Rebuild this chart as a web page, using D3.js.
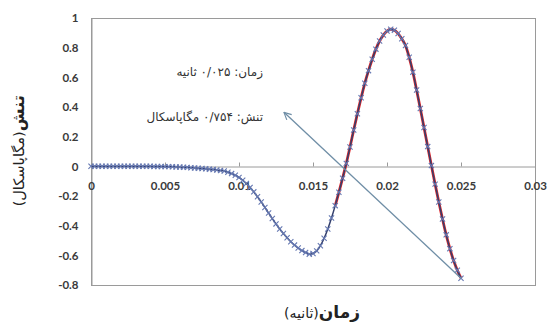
<!DOCTYPE html>
<html>
<head>
<meta charset="utf-8">
<script src="https://cdn.jsdelivr.net/npm/d3@7/dist/d3.min.js"></script>
<style>
  html, body { margin: 0; padding: 0; background: #fff; }
  svg { display: block; }
</style>
</head>
<body>
<svg id="chart" width="548" height="324"></svg>
<script>
// Stress response (MPa) sampled every 0.00025 s from 0 to 0.025 s
const stress = [
  0, 0, 0, 0, 0, 0, 0, 0, 0, 0, 0, 0, 0, 0, 0, 0, 0,
  -0.0005, -0.001, -0.001, -0.002, -0.002, -0.003, -0.004, -0.005, -0.006, -0.007,
  -0.009, -0.011, -0.013, -0.015, -0.017, -0.019, -0.022, -0.025, -0.028, -0.032,
  -0.040, -0.049, -0.060, -0.075, -0.094, -0.116, -0.142, -0.172, -0.205, -0.240,
  -0.277, -0.315, -0.352, -0.388, -0.422, -0.453, -0.482, -0.508, -0.531, -0.551,
  -0.568, -0.581, -0.592, -0.588, -0.570, -0.535, -0.485, -0.422, -0.348, -0.265,
  -0.175, -0.080, 0.020, 0.130, 0.245, 0.355, 0.462, 0.560, 0.645, 0.722,
  0.790, 0.845, 0.885, 0.912, 0.924, 0.918, 0.895, 0.860, 0.815, 0.735,
  0.635, 0.515, 0.390, 0.262, 0.133, 0.005, -0.120, -0.240, -0.355, -0.462,
  -0.555, -0.635, -0.700, -0.754
];
const timeStep = 0.00025;
const time = stress.map((_, i) => i * timeStep);

// Portion of the response traced by the red curve
const fitStart = 0.0165;

// Annotated end point of the record
const endTime = 0.025;
const endStress = -0.754;
const arrowTip = [0.01304, 0.364];

const xTicks = [0, 0.005, 0.01, 0.015, 0.02, 0.025, 0.03];
const xTickLabels = ["0", "0.005", "0.01", "0.015", "0.02", "0.025", "0.03"];
const yTicks = [-0.8, -0.6, -0.4, -0.2, 0, 0.2, 0.4, 0.6, 0.8, 1];
const yTickLabels = ["-0.8", "-0.6", "-0.4", "-0.2", "0", "0.2", "0.4", "0.6", "0.8", "1"];

const timeLabel = "زمان: ۰/۰۲۵ ثانیه";
const stressLabel = "تنش: ۰/۷۵۴ مگاپاسکال";

const svg = d3.select("#chart");
const plotLeft = 91, plotRight = 535, plotTop = 18, plotBottom = 285;

const x = d3.scaleLinear().domain([0, 0.03]).range([plotLeft, plotRight]);
const y = d3.scaleLinear().domain([-0.8, 1]).range([plotBottom, plotTop]);

const labelFont = "Lato, 'Liberation Sans', sans-serif";
const faFont = "'DejaVu Sans', sans-serif";

// Plot area frame
svg.append("rect")
  .attr("x", plotLeft + 0.5).attr("y", plotTop + 0.5)
  .attr("width", plotRight - plotLeft).attr("height", plotBottom - plotTop)
  .attr("fill", "none").attr("stroke", "#9a9a9a").attr("stroke-width", 1);

// Y axis
const yAxis = d3.axisLeft(y)
  .tickValues(yTicks)
  .tickFormat((d, i) => yTickLabels[i])
  .tickSize(0)
  .tickPadding(13);
const gy = svg.append("g").attr("transform", `translate(${plotLeft + 0.5},0)`).call(yAxis);
gy.select(".domain").attr("stroke", "#9a9a9a");
gy.selectAll("text").attr("font-family", labelFont).attr("font-size", 11.5)
  .attr("font-weight", "bold").attr("fill", "#3a3a3a");

// X axis along zero stress
const xAxis = d3.axisBottom(x)
  .tickValues(xTicks)
  .tickFormat((d, i) => xTickLabels[i])
  .tickSizeInner(-4)
  .tickSizeOuter(0)
  .tickPadding(15);
const gx = svg.append("g").attr("transform", `translate(0,${Math.round(y(0)) + 0.5})`).call(xAxis);
gx.select(".domain").attr("stroke", "#9a9a9a");
gx.selectAll(".tick line").attr("stroke", "#9a9a9a");
gx.selectAll("text").attr("font-family", labelFont).attr("font-size", 11.5)
  .attr("font-weight", "bold").attr("fill", "#3a3a3a");

const pts = time.map((t, i) => [t, stress[i]]);
const line = d3.line().x(d => x(d[0])).y(d => y(d[1])).curve(d3.curveMonotoneX);

// Red curve
svg.append("path")
  .datum(pts.filter(d => d[0] >= fitStart - 1e-9))
  .attr("d", line)
  .attr("fill", "none").attr("stroke", "#e3262a").attr("stroke-width", 2.8);

// Main response line
svg.append("path")
  .datum(pts)
  .attr("d", line)
  .attr("fill", "none").attr("stroke", "#34406e").attr("stroke-width", 1.5);

// Cross markers
svg.append("g").selectAll("path")
  .data(pts)
  .join("path")
  .attr("transform", d => `translate(${x(d[0])},${y(d[1])})`)
  .attr("d", "M-2.6,-2.6L2.6,2.6M-2.6,2.6L2.6,-2.6")
  .attr("stroke", "#6578b2").attr("stroke-width", 1.1).attr("fill", "none");

// Arrow from the end point to the annotation
svg.append("defs").append("marker")
  .attr("id", "head")
  .attr("viewBox", "0 0 10 10")
  .attr("refX", 9).attr("refY", 5)
  .attr("markerWidth", 9).attr("markerHeight", 9)
  .attr("markerUnits", "userSpaceOnUse")
  .attr("orient", "auto")
  .append("path")
  .attr("d", "M1,1L9,5L1,9")
  .attr("fill", "none").attr("stroke", "#6f8ea6").attr("stroke-width", 1.3);

svg.append("line")
  .attr("x1", x(endTime)).attr("y1", y(endStress))
  .attr("x2", x(arrowTip[0])).attr("y2", y(arrowTip[1]))
  .attr("stroke", "#6f8ea6").attr("stroke-width", 1.3)
  .attr("marker-end", "url(#head)");

// Annotation text
svg.append("text")
  .attr("x", 263).attr("y", 76)
  .attr("direction", "rtl").attr("text-anchor", "start")
  .attr("font-family", faFont).attr("font-size", 12).attr("fill", "#333")
  .text(timeLabel);
svg.append("text")
  .attr("x", 263).attr("y", 121)
  .attr("direction", "rtl").attr("text-anchor", "start")
  .attr("font-family", faFont).attr("font-size", 12).attr("fill", "#333")
  .text(stressLabel);

// Axis titles (right edge anchored, right-to-left)
const xt = svg.append("text")
  .attr("x", 360).attr("y", 318)
  .attr("direction", "rtl").attr("text-anchor", "start")
  .attr("font-family", faFont).attr("fill", "#222");
xt.append("tspan").attr("font-size", 17).attr("font-weight", "bold").text("زمان");
xt.append("tspan").attr("font-size", 14).text("(ثانیه)");

const yt = svg.append("text")
  .attr("transform", "translate(24,95) rotate(-90)")
  .attr("direction", "rtl").attr("text-anchor", "start")
  .attr("font-family", faFont).attr("fill", "#222");
yt.append("tspan").attr("font-size", 16.5).attr("font-weight", "bold").text("تنش");
yt.append("tspan").attr("font-size", 14.5).text("(مگاپاسکال)");
</script>
</body>
</html>
